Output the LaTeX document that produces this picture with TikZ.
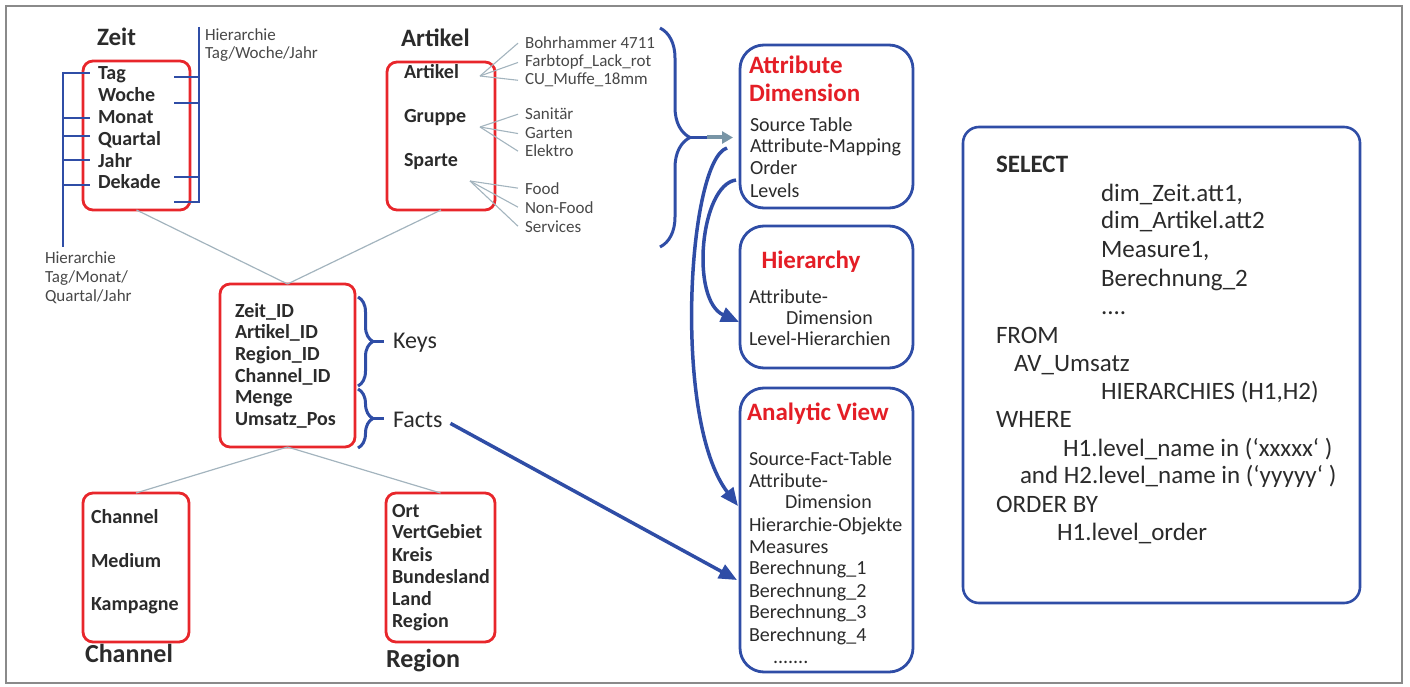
\documentclass[tikz,border=0pt]{standalone}
\usepackage{fontspec}
\setmainfont{Carlito}
\usetikzlibrary{arrows.meta,decorations.pathreplacing}

\definecolor{navy}{HTML}{2F4DA6}
\definecolor{boxred}{HTML}{E8262B}
\definecolor{titlered}{HTML}{E41E26}
\definecolor{ink}{HTML}{2B2B2B}
\definecolor{softink}{HTML}{484848}
\definecolor{linkgray}{HTML}{A3B4BE}
\definecolor{steel}{HTML}{7895A6}
\definecolor{framegray}{HTML}{8A8A8A}

\tikzset{
  every node/.style={inner sep=0pt, outer sep=0pt, text=ink},
  redbox/.style={draw=boxred, line width=2.8pt, rounded corners=10pt, anchor=north west},
  bluebox/.style={draw=navy, line width=2.8pt, rounded corners=24pt, anchor=north west},
  sqlbox/.style={draw=navy, line width=2.6pt, rounded corners=16pt, anchor=north west},
  dimtitle/.style={anchor=base west, font=\fontsize{25}{28}\selectfont\bfseries},
  bolditem/.style={anchor=base west, font=\fontsize{20}{22}\selectfont\bfseries},
  note/.style={anchor=base west, font=\fontsize{17}{19}\selectfont, text=softink},
  bodytext/.style={anchor=base west, font=\fontsize{20}{22}\selectfont},
  redtitle/.style={anchor=base west, font=\fontsize{25}{28}\selectfont\bfseries, text=titlered},
  sqltext/.style={anchor=base west, font=\fontsize{25}{28}\selectfont},
  bracelabel/.style={anchor=base west, font=\fontsize{24}{28}\selectfont},
  hierline/.style={draw=navy, line width=2.8pt},
  link/.style={draw=linkgray, line width=1.2pt},
  fan/.style={draw=linkgray, line width=1.1pt},
  curly/.style={draw=navy, line width=3pt, decorate, decoration={brace, amplitude=#1}},
  flow/.style={draw=navy, line width=3.5pt, -{Triangle[length=18pt,width=15pt]}},
  feed/.style={draw=steel, line width=4pt, -{Triangle[length=11pt,width=12pt]}},
}

\begin{document}
\begin{tikzpicture}[x=1pt, y=-1pt]
\useasboundingbox (0,0) rectangle (1410,687);
\draw[framegray, line width=1.4pt] (6,6) rectangle (1402,683);

% ---------- Zeit dimension ----------
\node[dimtitle] (zeitTitle) at (97,46) {Zeit};
\node[redbox, minimum width=107pt, minimum height=149pt] (zeit) at (83,61) {};
\foreach \t/\y [count=\i] in {Tag/80, Woche/102, Monat/124, Quartal/145.5, Jahr/167.5, Dekade/189}
  \node[bolditem] (zeit\i) at (98,\y) {\t};

% hierarchy Tag/Monat/Quartal/Jahr (left bar)
\draw[hierline] (63,72) -- (63,247);
\foreach \y in {73,118,136,160,185}
  \draw[hierline] (63,\y) -- (90,\y);
\node[note] (hierL1) at (45,263) {Hierarchie};
\node[note] (hierL2) at (45,282) {Tag/Monat/};
\node[note] (hierL3) at (45,301) {Quartal/Jahr};

% hierarchy Tag/Woche/Jahr (right bar)
\draw[hierline] (199,27) -- (199,203);
\foreach \y in {77,103,177,202}
  \draw[hierline] (174,\y) -- (199,\y);
\node[note] (hierR1) at (205,41) {Hierarchie};
\node[note] (hierR2) at (205,59) {Tag/Woche/Jahr};

% ---------- Artikel dimension ----------
\node[dimtitle] (artTitle) at (401,47) {Artikel};
\node[redbox, minimum width=108pt, minimum height=148pt] (art) at (387,62) {};
\node[bolditem] (artA) at (404,79) {Artikel};
\node[bolditem] (artG) at (404,123) {Gruppe};
\node[bolditem] (artS) at (404,167) {Sparte};

\node[note] (ex1) at (525,49) {Bohrhammer 4711};
\node[note] (ex2) at (525,67) {Farbtopf\_Lack\_rot};
\node[note] (ex3) at (525,85) {CU\_Muffe\_18mm};
\node[note] (ex4) at (525,120) {Sanitär};
\node[note] (ex5) at (525,139) {Garten};
\node[note] (ex6) at (525,157) {Elektro};
\node[note] (ex7) at (525,194) {Food};
\node[note] (ex8) at (525,213) {Non-Food};
\node[note] (ex9) at (525,232) {Services};

\coordinate (fanA) at (480,76);
\coordinate (fanG) at (480,127);
\coordinate (fanS) at (470,181);
\foreach \i in {1,2,3} \draw[fan] (fanA) -- ([xshift=-7pt]ex\i.west);
\foreach \i in {4,5,6} \draw[fan] (fanG) -- ([xshift=-7pt]ex\i.west);
\foreach \i in {7,8,9} \draw[fan] (fanS) -- ([xshift=-7pt]ex\i.west);

% ---------- fact table ----------
\node[redbox, minimum width=135pt, minimum height=163pt] (fact) at (220,284) {};
\foreach \t/\y [count=\i] in {Zeit\_ID/317, Artikel\_ID/338, Region\_ID/360, Channel\_ID/382, Menge/403, Umsatz\_Pos/425}
  \node[bolditem] (fact\i) at (235,\y) {\t};

\draw[curly=15pt] (358,297) -- (358,386);
\draw[curly=15pt] (358,389) -- (358,448);
\coordinate (keysTip) at (373,341);
\coordinate (factsTip) at (373,418.5);
\draw[navy, line width=3pt] (keysTip) -- (384,341);
\draw[navy, line width=3pt] (factsTip) -- (384,418.5);
\node[bracelabel] (keys) at (393,348) {Keys};
\node[bracelabel] (facts) at (393,427) {Facts};

% ---------- Channel and Region ----------
\node[redbox, minimum width=106pt, minimum height=149pt] (chan) at (83,493) {};
\node[bolditem] (chan1) at (91,523) {Channel};
\node[bolditem] (chan2) at (91,567) {Medium};
\node[bolditem] (chan3) at (91,610) {Kampagne};
\node[dimtitle, font=\fontsize{26}{28}\selectfont\bfseries] (chanTitle) at (85,662) {Channel};

\node[redbox, minimum width=109pt, minimum height=149pt] (reg) at (386,493) {};
\foreach \t/\y [count=\i] in {Ort/517, VertGebiet/538, Kreis/561, Bundesland/583, Land/605, Region/627}
  \node[bolditem] (reg\i) at (392,\y) {\t};
\node[dimtitle, font=\fontsize{26}{28}\selectfont\bfseries] (regTitle) at (386,667) {Region};

% star links
\draw[link] (zeit.south) -- (fact.north);
\draw[link] (art.south) -- (fact.north);
\draw[link] (fact.south) -- (chan.north);
\draw[link] (fact.south) -- (reg.north);

% ---------- big brace to Attribute Dimension ----------
\draw[curly=30pt] (660,28) -- (660,247);
\coordinate (bigTip) at (690,137.5);
\coordinate (feedStart) at (707,137.5);
\draw[navy, line width=3pt] (bigTip) -- (feedStart);

% ---------- Attribute Dimension ----------
\node[bluebox, minimum width=173pt, minimum height=163pt] (adim) at (740,45) {};
\node[redtitle] (adimT1) at (749,74) {Attribute};
\node[redtitle] (adimT2) at (749,102) {Dimension};
\node[bodytext] (adim1) at (750,132) {Source Table};
\node[bodytext] (adim2) at (750,153) {Attribute-Mapping};
\node[bodytext] (adim3) at (750,175) {Order};
\node[bodytext] (adim4) at (750,197) {Levels};
\draw[feed] (feedStart) -- ([xshift=-7pt]adim.west |- feedStart);

% ---------- Hierarchy ----------
\node[bluebox, minimum width=173pt, minimum height=142pt] (hier) at (740,226) {};
\node[redtitle, anchor=base] (hierT) at (811,268) {Hierarchy};
\node[bodytext] (hier1) at (749,303) {Attribute-};
\node[bodytext] (hier2) at (786,324) {Dimension};
\node[bodytext] (hier3) at (749,345) {Level-Hierarchien};

% ---------- Analytic View ----------
\node[bluebox, minimum width=173pt, minimum height=284pt] (av) at (740,388) {};
\node[redtitle] (avT) at (747,420) {Analytic View};
\node[bodytext] (av1) at (749,465) {Source-Fact-Table};
\node[bodytext] (av2) at (749,487) {Attribute-};
\node[bodytext] (av3) at (785,508) {Dimension};
\node[bodytext] (av4) at (749,531) {Hierarchie-Objekte};
\node[bodytext] (av5) at (749,553) {Measures};
\node[bodytext] (av6) at (749,574) {Berechnung\_1};
\node[bodytext] (av7) at (749,597) {Berechnung\_2};
\node[bodytext] (av8) at (749,618) {Berechnung\_3};
\node[bodytext] (av9) at (749,641) {Berechnung\_4};
\node[bodytext] (av10) at (773,663) {.......};

% ---------- flows ----------
\coordinate (outA) at (727,148);
\coordinate (outB) at (736,180);
\coordinate (inAV) at (738,506);
\coordinate (inHier) at (739,322);
\coordinate (inFacts) at (737,580);
\draw[flow] (outA) .. controls (688,160) and (672,420) .. (inAV);
\draw[flow] (outB) .. controls (700,185) and (690,300) .. (inHier);
\draw[flow] ([xshift=8pt,yshift=-4pt]facts.east) -- (inFacts);

% ---------- SQL query ----------
\node[sqlbox, minimum width=397pt, minimum height=476pt] (sql) at (963,127) {};
\node[sqltext, font=\fontsize{25}{28}\selectfont\bfseries] (q1) at (996,173) {SELECT};
\node[sqltext] (q2) at (1101,201) {dim\_Zeit.att1,};
\node[sqltext] (q3) at (1101,229) {dim\_Artikel.att2};
\node[sqltext] (q4) at (1101,257) {Measure1,};
\node[sqltext] (q5) at (1101,286) {Berechnung\_2};
\node[sqltext] (q6) at (1101,314) {....};
\node[sqltext] (q7) at (996,343) {FROM};
\node[sqltext] (q8) at (1014,371) {AV\_Umsatz};
\node[sqltext] (q9) at (1101,399) {HIERARCHIES (H1,H2)};
\node[sqltext] (q10) at (996,427) {WHERE};
\node[sqltext] (q11) at (1063,456) {H1.level\_name in (‘xxxxx‘ )};
\node[sqltext] (q12) at (1020,483) {and H2.level\_name in (‘yyyyy‘ )};
\node[sqltext] (q13) at (996,512) {ORDER BY};
\node[sqltext] (q14) at (1057,540) {H1.level\_order};
\end{tikzpicture}
\end{document}
